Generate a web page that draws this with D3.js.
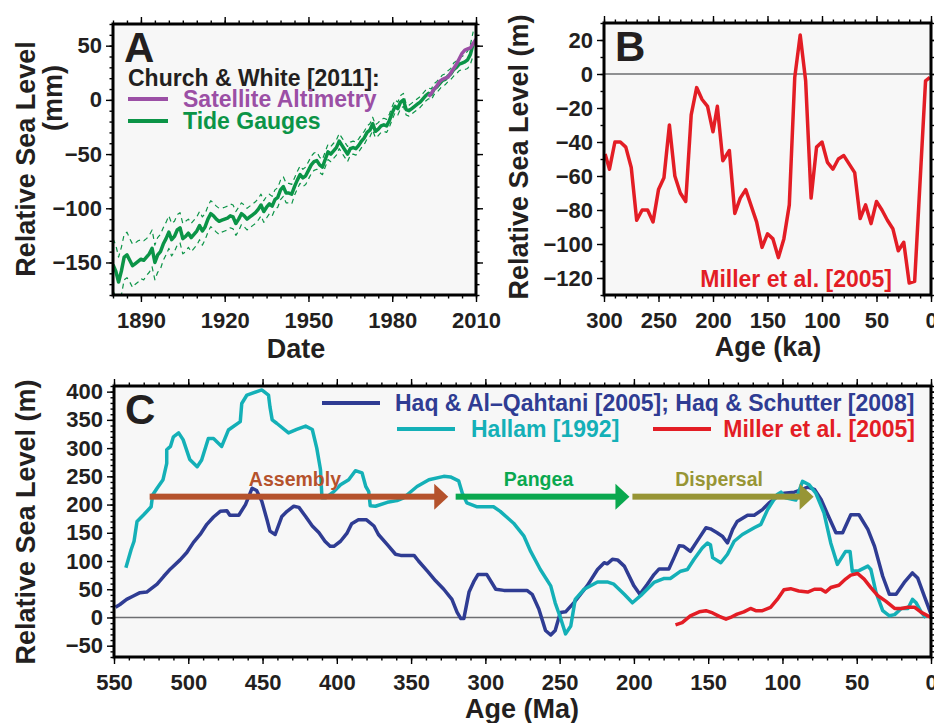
<!DOCTYPE html>
<html lang="en">
<head>
<meta charset="utf-8">
<title>Sea level on three time scales</title>
<script src="https://d3js.org/d3.v7.min.js"></script>
<style>
  body { margin: 0; background: #fff; }
  svg text { font-family: "Liberation Sans", Arial, Helvetica, sans-serif; font-weight: bold; }
</style>
</head>
<body>
<script>

// ---- Panel A: Church & White [2011] ----
var tideYear = d3.range(1880, 2010);
var tideLevel = [-152,-158,-168,-158,-145,-143,-148,-153,-151,-149,
  -147,-148,-145,-142,-137,-150,-143,-140,-133,-128,
  -122,-129,-126,-120,-118,-128,-126,-123,-127,-124,
  -121,-116,-121,-117,-110,-105,-107,-110,-112,-111,
  -110,-109,-107,-108,-114,-110,-105,-107,-110,-108,
  -106,-104,-101,-97,-103,-99,-96,-98,-92,-90,
  -83,-80,-86,-86,-87,-80,-74,-69,-72,-70,
  -65,-60,-57,-56,-60,-62,-55,-48,-50,-47,
  -44,-38,-42,-46,-50,-45,-44,-45,-42,-38,
  -35,-30,-28,-22,-29,-27,-24,-23,-24,-19,
  -12,-6,-8,-2,0,-9,-10,-8,-6,-4,
  -2,1,4,6,5,10,12,15,18,19,
  22,24,28,30,33,34,35,37,42,52];
var tideSigma = [24,24,23,22,21,21,20,20,19,19,
  18,18,17,17,17,16,16,16,15,15,
  15,15,14,14,14,14,14,13,13,13,
  13,13,13,12,12,12,12,12,12,11,
  11,11,11,11,11,11,10,10,10,10,
  10,10,10,10,10,10,9,9,9,9,
  9,9,9,9,9,8,8,8,8,8,
  8,8,8,8,7,7,7,7,7,7,
  7,7,7,7,7,6,6,6,6,6,
  6,6,6,6,6,6,6,6,6,6,
  6,6,6,6,6,5,5,5,5,5,
  5,5,5,5,5,5,5,5,5,5,
  5,5,6,6,6,6,7,8,9,11];
var satYear = [1993,1994,1995,1996,1997,1998,1999,2000,2001,2002,2003,2004,2005,2006,2007,2008,2009,2010];
var satLevel = [3,6,10,13,17,19,20,21,25,29,33,38,43,46,47,48,52,56];
var aTicksX = [1890, 1920, 1950, 1980, 2010];
var aTicksY = [-150, -100, -50, 0, 50];

// ---- Panel B: Miller et al. [2005], last 300 ka ----
var kaAge = [299,295,290,285,280,275,270,265,260,255,250,245,240,235,230,225,220,215,210,205,
  200,196,191,185,180,175,170,160,155,150,145,140,135,130,125,120,115,110,105,100,
  95,90,85,80,75,70,65,60,55,50,45,40,35,30,25,20,15,5,1];
var kaLevel = [-47,-56,-40,-40,-43,-55,-86,-80,-80,-87,-68,-61,-30,-60,-70,-75,-24,-8,-15,-19,
  -34,-19,-51,-45,-82,-73,-68,-87,-102,-94,-97,-108,-97,-77,-2,23,-4,-73,-43,-40,
  -52,-56,-50,-48,-53,-58,-85,-77,-88,-75,-80,-86,-91,-104,-99,-123,-122,-4,-2];
var bTicksX = [300, 250, 200, 150, 100, 50, 0];
var bTicksY = [-120, -100, -80, -60, -40, -20, 0, 20];

// ---- Panel C: Phanerozoic curves (Ma) ----
var haqAge = [549,546,541.5,537,532.5,528,524.5,521,516.5,512,505.5,501,496.5,492,487.5,483,478.5,474,472,466,
  461.5,457,454,450.5,447,445,441.5,437,433.5,429,425.5,421,416.5,412,408,404.5,402,397.5,393,390,
  385.5,380,375,372,366,360.5,357,348,345,339,333.5,328,322.5,319,316.5,314.5,311,307.5,305,299,
  293,287.5,272,268.5,264,259.5,256,253,249.5,246,240.5,231.5,224.5,220,218,214.5,211,206.5,200,196,
  191,186.5,183,176.5,173,169.5,166.5,162,156,151.5,148.5,144,140.5,137,133.5,130.5,123.5,119,113.5,109,
  104.5,99,92,87.5,83,78.5,74,69.5,64,59.5,54,48.5,42.5,38,32.5,28,23.5,18,12.5,9,4.5,0];
var haqLevel = [18,23,32,38,44,45,52,59,73,86,102,115,133,147,165,178,188,189,181,181,
  200,229,225,206,173,153,147,179,188,197,195,179,162,150,135,126,126,135,150,166,
  173,173,162,147,129,112,110,110,100,82,65,50,32,9,-2,-2,45,65,76,76,
  50,48,48,41,15,-23,-31,-23,9,10,26,56,85,97,95,103,102,91,56,41,
  59,76,86,86,106,127,126,117,141,159,157,150,144,132,156,170,181,181,191,203,
  212,220,222,226,231,227,209,182,150,150,182,182,156,126,73,41,41,62,79,70,38,6];
var hallamAge = [542,538.5,536.5,534.5,530,525,524,521,517,514.5,514.5,512,510,506.5,503.5,499,494,491,486.5,483,
  477.5,473,465,464,460.5,450.5,446,445,443.5,440.5,432.5,427,421,416.5,413.5,411,410,407.5,402,397.5,
  392,387.5,383,380.5,378.5,377.5,374,366,359.5,355,346,338,328,323.5,318,315.5,312.5,305.5,294.5,290,
  281,274,269.5,263,256,253,249.5,246,242.5,239.5,233.5,224.5,218,213.5,206.5,201,194.5,186.5,180,175.5,
  168.5,164,159.5,154,150.5,148.5,147,141.5,137,132.5,127,119,114.5,110,103.5,101,98,91,86.5,82,
  77.5,72,67.5,63,57.5,54.5,53,48.5,42.5,40.5,37,32.5,28,24.5,20,15.5,12.5,10,6.5,3.5];
var hallamLevel = [88,120,135,170,182,196,217,229,244,273,297,303,320,327,315,280,267,279,317,317,
  303,332,347,379,394,403,394,373,350,344,327,333,339,333,300,262,212,212,223,235,
  244,260,256,232,223,198,197,204,207,212,232,244,250,249,242,220,203,196,196,188,
  167,144,117,85,56,26,0,-29,-15,32,50,63,63,59,41,26,41,62,69,69,
  82,85,103,123,132,129,106,97,112,135,147,159,165,191,218,222,212,208,241,235,
  220,185,132,94,117,117,82,83,91,85,44,12,3,5,16,16,32,26,9,0];
var millerAge = [172,167.5,162,156,151.5,147,142.5,138,135,130.5,126,121.5,118,113.5,108,103.5,99,94.5,89,83,
  78.5,74,71,67.5,62,57.5,54,49.5,45,40.5,36,30.5,24.5,20,15.5,11,6.5,0];
var millerLevel = [-13,-9,3,10,12,8,2,-3,0,6,10,16,12,12,18,32,49,51,47,45,
  50,50,45,53,57,68,75,78,68,53,39,29,16,16,18,18,9,0];
var phaseName = ["Assembly", "Pangea", "Dispersal"];
var phaseStart = [526, 320, 201];
var phaseEnd = [325, 203, 79];
var phaseLevel = 214;
var cTicksX = [550, 500, 450, 400, 350, 300, 250, 200, 150, 100, 50, 0];
var cTicksY = [-50, 0, 50, 100, 150, 200, 250, 300, 350, 400];

var colors = {
  ink: "#231f20", sat: "#9b4fa5", tide: "#0b9447", red: "#e31d25",
  haq: "#2f3c93", hallam: "#14b0b7", zero: "#6d6e71",
  phase: ["#b5522c", "#0aa84f", "#979535"]
};

var svg = d3.select("body").append("svg")
  .attr("width", 934)
  .attr("height", 723);

function zip(a, b) {
  return a.map(function (d, i) { return [d, b[i]]; });
}

// frame with light background, clipped plot layer, ticks all round
function panel(o) {
  var x = d3.scaleLinear().domain(o.xDomain).range([o.x0, o.x1]);
  var y = d3.scaleLinear().domain(o.yDomain).range([o.y1, o.y0]);
  var g = svg.append("g");
  g.append("rect")
    .attr("x", o.x0).attr("y", o.y0)
    .attr("width", o.x1 - o.x0).attr("height", o.y1 - o.y0)
    .attr("fill", "#f7f7f7");
  g.append("clipPath").attr("id", o.id).append("rect")
    .attr("x", o.x0).attr("y", o.y0)
    .attr("width", o.x1 - o.x0).attr("height", o.y1 - o.y0);
  var plot = g.append("g").attr("clip-path", "url(#" + o.id + ")");
  var top = g.append("g");

  if (o.zero) {
    plot.append("line")
      .attr("x1", o.x0).attr("x2", o.x1)
      .attr("y1", y(0)).attr("y2", y(0))
      .attr("stroke", colors.zero).attr("stroke-width", 1.5);
  }

  var sides = [
    [d3.axisBottom, x, "translate(0," + o.y1 + ")"],
    [d3.axisTop, x, "translate(0," + o.y0 + ")"],
    [d3.axisLeft, y, "translate(" + o.x0 + ",0)"],
    [d3.axisRight, y, "translate(" + o.x1 + ",0)"]
  ];
  sides.forEach(function (s, i) {
    var isX = i < 2;
    var minor = isX ? o.xMinor : o.yMinor;
    var major = isX ? o.xMajor : o.yMajor;
    top.append("g").attr("transform", s[2])
      .call(s[0](s[1]).tickValues(minor).tickSize(3.5).tickFormat(""));
    var ax = s[0](s[1]).tickValues(major).tickSize(7)
      .tickPadding(isX ? 10 : 4)
      .tickFormat(i == 0 || i == 2 ? d3.format("d") : "");
    top.append("g").attr("transform", s[2]).call(ax);
  });
  top.selectAll(".domain").remove();
  top.selectAll(".tick line").attr("stroke", "#000").attr("stroke-width", 1.4);
  top.selectAll(".tick text")
    .attr("fill", colors.ink)
    .attr("font-size", "22px")
    .attr("font-family", "'Liberation Sans', Arial, sans-serif");
  top.append("rect")
    .attr("x", o.x0).attr("y", o.y0)
    .attr("width", o.x1 - o.x0).attr("height", o.y1 - o.y0)
    .attr("fill", "none").attr("stroke", "#000").attr("stroke-width", 3);

  top.append("text")
    .attr("x", o.x0 + 11).attr("y", o.y0 + 38)
    .attr("font-size", "42px").attr("fill", colors.ink)
    .text(o.letter);

  return { x: x, y: y, plot: plot, top: top };
}

function drawLine(layer, data, p, color, width, dash) {
  layer.append("path")
    .datum(data)
    .attr("fill", "none")
    .attr("stroke", color)
    .attr("stroke-width", width)
    .attr("stroke-linejoin", "round")
    .attr("stroke-dasharray", dash || null)
    .attr("d", d3.line().x(function (d) { return p.x(d[0]); }).y(function (d) { return p.y(d[1]); }));
}

function title(txt, x, y, rot, anchor) {
  svg.append("text")
    .attr("transform", "translate(" + x + "," + y + ")" + (rot ? " rotate(-90)" : ""))
    .attr("text-anchor", anchor || "middle")
    .attr("font-size", "27px")
    .attr("fill", colors.ink)
    .text(txt);
}

// ===== A =====
var A = panel({
  id: "clipA", letter: "A", x0: 113, x1: 476, y0: 24, y1: 295,
  xDomain: [1880, 2010], yDomain: [-180, 70],
  xMajor: aTicksX, xMinor: d3.range(1880, 2011, 5),
  yMajor: aTicksY, yMinor: d3.range(-180, 71, 10)
});
var upper = tideYear.map(function (d, i) { return [d, tideLevel[i] + tideSigma[i]]; });
var lower = tideYear.map(function (d, i) { return [d, tideLevel[i] - tideSigma[i]]; });
drawLine(A.plot, upper, A, colors.tide, 1.2, "5,4");
drawLine(A.plot, lower, A, colors.tide, 1.2, "5,4");
drawLine(A.plot, zip(tideYear, tideLevel), A, colors.tide, 3.5);
drawLine(A.plot, zip(satYear, satLevel), A, colors.sat, 3.5);

A.top.append("text").attr("x", 128).attr("y", 86)
  .attr("font-size", "23px").attr("fill", colors.ink).text("Church & White [2011]:");
[["Satellite Altimetry", colors.sat, 99], ["Tide Gauges", colors.tide, 121]].forEach(function (l) {
  A.top.append("line").attr("x1", 128).attr("x2", 168).attr("y1", l[2]).attr("y2", l[2])
    .attr("stroke", l[1]).attr("stroke-width", 4);
  A.top.append("text").attr("x", 183).attr("y", l[2] + 8)
    .attr("font-size", "23px").attr("fill", l[1]).text(l[0]);
});

title("Relative Sea Level", 35, 159, true);
title("(mm)", 62, 98, true);
title("Date", 296, 358);

// ===== B =====
var B = panel({
  id: "clipB", letter: "B", x0: 604, x1: 931, y0: 23, y1: 295,
  xDomain: [300, 0], yDomain: [-130, 30], zero: true,
  xMajor: bTicksX, xMinor: d3.range(0, 301, 10),
  yMajor: bTicksY, yMinor: d3.range(-130, 31, 10)
});
drawLine(B.plot, zip(kaAge, kaLevel), B, colors.red, 3.5);
B.top.append("text").attr("x", 892).attr("y", 287).attr("text-anchor", "end")
  .attr("font-size", "23px").attr("fill", colors.red).text("Miller et al. [2005]");
title("Relative Sea Level (m)", 528, 157, true);
title("Age (ka)", 768, 356);

// ===== C =====
var C = panel({
  id: "clipC", letter: "C", x0: 114, x1: 931, y0: 386, y1: 657,
  xDomain: [550, 0], yDomain: [-70, 410], zero: true,
  xMajor: cTicksX, xMinor: d3.range(0, 551, 10),
  yMajor: cTicksY, yMinor: d3.range(-70, 411, 10)
});
drawLine(C.plot, zip(haqAge, haqLevel), C, colors.haq, 3.5);
drawLine(C.plot, zip(hallamAge, hallamLevel), C, colors.hallam, 3.5);
drawLine(C.plot, zip(millerAge, millerLevel), C, colors.red, 3.5);

// supercontinent phase arrows
phaseName.forEach(function (name, i) {
  var xs = C.x(phaseStart[i]), xe = C.x(phaseEnd[i]), ya = C.y(phaseLevel);
  var col = colors.phase[i];
  C.plot.append("rect")
    .attr("x", xs).attr("y", ya - 3)
    .attr("width", xe - 13 - xs).attr("height", 6)
    .attr("fill", col);
  C.plot.append("path")
    .attr("d", "M" + (xe - 14) + "," + (ya - 13) + "L" + xe + "," + ya + "L" + (xe - 14) + "," + (ya + 13) + "Z")
    .attr("fill", col);
  C.plot.append("text")
    .attr("x", (xs + xe) / 2 - 4).attr("y", ya - 11)
    .attr("text-anchor", "middle")
    .attr("font-size", "19.5px").attr("fill", col)
    .text(name);
});

var legC = [
  ["Haq & Al\u2013Qahtani [2005]; Haq & Schutter [2008]", colors.haq, 322, 403, 395, "start"],
  ["Hallam [1992]", colors.hallam, 397, 429, 471, "start"],
  ["Miller et al. [2005]", colors.red, 653, 429, 915, "end"]
];
legC.forEach(function (l) {
  C.top.append("line").attr("x1", l[2]).attr("x2", l[2] + 58).attr("y1", l[3]).attr("y2", l[3])
    .attr("stroke", l[1]).attr("stroke-width", 4);
  C.top.append("text").attr("x", l[5] == "end" ? 915 : l[4]).attr("y", l[3] + 8)
    .attr("text-anchor", l[5])
    .attr("font-size", "23px").attr("fill", l[1]).text(l[0]);
});
title("Relative Sea Level (m)", 35, 522, true);
title("Age (Ma)", 522, 718);

</script>
</body>
</html>
